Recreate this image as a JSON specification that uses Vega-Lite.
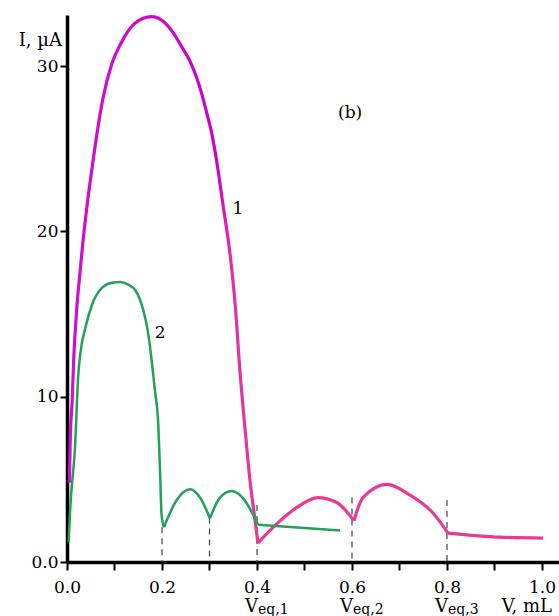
{
  "$schema": "https://vega.github.io/schema/vega-lite/v6.json",
  "width": 492,
  "height": 547,
  "autosize": "none",
  "padding": {"left": 67, "top": 15, "right": 0, "bottom": 54},
  "background": "white",
  "config": {"view": {"stroke": null}, "font": "DejaVu Serif"},
  "datasets": {
    "curve1a": [
      {"x": 0.005, "y": 4.8}, {"x": 0.007, "y": 7.6}, {"x": 0.011, "y": 9.8}, {"x": 0.014, "y": 12.2},
      {"x": 0.021, "y": 15.5}, {"x": 0.028, "y": 17.7}, {"x": 0.034, "y": 19.5}, {"x": 0.042, "y": 21.5},
      {"x": 0.053, "y": 23.9}, {"x": 0.063, "y": 25.9}, {"x": 0.076, "y": 28.1}, {"x": 0.095, "y": 30.2},
      {"x": 0.112, "y": 31.3}, {"x": 0.143, "y": 32.6}, {"x": 0.178, "y": 33.0}, {"x": 0.203, "y": 32.7},
      {"x": 0.224, "y": 32.0}, {"x": 0.241, "y": 31.2}, {"x": 0.259, "y": 30.3}, {"x": 0.273, "y": 29.3},
      {"x": 0.284, "y": 28.3}, {"x": 0.294, "y": 27.2}, {"x": 0.305, "y": 25.9}, {"x": 0.316, "y": 24.1},
      {"x": 0.328, "y": 21.7}, {"x": 0.343, "y": 18.7}, {"x": 0.354, "y": 15.6}, {"x": 0.364, "y": 11.6},
      {"x": 0.375, "y": 8.0}, {"x": 0.385, "y": 5.0}, {"x": 0.396, "y": 2.5}, {"x": 0.402, "y": 1.15}
    ],
    "curve1b": [
      {"seg": "b", "x": 0.402, "y": 1.15}, {"seg": "b", "x": 0.434, "y": 2.1}, {"seg": "b", "x": 0.484, "y": 3.3},
      {"seg": "b", "x": 0.528, "y": 3.9}, {"seg": "b", "x": 0.568, "y": 3.6}, {"seg": "b", "x": 0.604, "y": 2.5},
      {"seg": "c", "x": 0.604, "y": 2.5}, {"seg": "c", "x": 0.623, "y": 3.9},
      {"seg": "c", "x": 0.674, "y": 4.7}, {"seg": "c", "x": 0.722, "y": 4.05}, {"seg": "c", "x": 0.771, "y": 2.95}, {"seg": "c", "x": 0.802, "y": 1.75},
      {"seg": "d", "x": 0.802, "y": 1.75}, {"seg": "d", "x": 0.912, "y": 1.5}, {"seg": "d", "x": 1.002, "y": 1.45}
    ],
    "curve2": [
      {"seg": "a", "x": 0.0035, "y": 1.2}, {"seg": "a", "x": 0.006, "y": 2.8}, {"seg": "a", "x": 0.009, "y": 4.2}, {"seg": "a", "x": 0.013, "y": 5.5},
      {"seg": "a", "x": 0.017, "y": 7.0}, {"seg": "a", "x": 0.020, "y": 9.0}, {"seg": "a", "x": 0.023, "y": 11.0}, {"seg": "a", "x": 0.028, "y": 12.6},
      {"seg": "a", "x": 0.039, "y": 14.2}, {"seg": "a", "x": 0.053, "y": 15.6}, {"seg": "a", "x": 0.074, "y": 16.6}, {"seg": "a", "x": 0.095, "y": 16.9},
      {"seg": "a", "x": 0.112, "y": 16.95}, {"seg": "a", "x": 0.128, "y": 16.8}, {"seg": "a", "x": 0.145, "y": 16.4}, {"seg": "a", "x": 0.160, "y": 15.3},
      {"seg": "a", "x": 0.170, "y": 14.0}, {"seg": "a", "x": 0.177, "y": 12.5}, {"seg": "a", "x": 0.185, "y": 10.4},
      {"seg": "a", "x": 0.192, "y": 8.4}, {"seg": "a", "x": 0.196, "y": 5.4}, {"seg": "a", "x": 0.199, "y": 2.9}, {"seg": "a", "x": 0.204, "y": 2.1},
      {"seg": "b", "x": 0.204, "y": 2.1}, {"seg": "b", "x": 0.231, "y": 3.75}, {"seg": "b", "x": 0.259, "y": 4.4}, {"seg": "b", "x": 0.280, "y": 3.9}, {"seg": "b", "x": 0.301, "y": 2.65},
      {"seg": "c", "x": 0.301, "y": 2.65}, {"seg": "c", "x": 0.322, "y": 3.9}, {"seg": "c", "x": 0.347, "y": 4.3}, {"seg": "c", "x": 0.371, "y": 3.85}, {"seg": "c", "x": 0.392, "y": 2.85},
      {"seg": "c", "x": 0.402, "y": 2.25},
      {"seg": "d", "x": 0.402, "y": 2.25}, {"seg": "d", "x": 0.575, "y": 1.9}
    ],
    "dashes": [
      {"x": 0.2, "y": 2.1}, {"x": 0.3, "y": 2.7}, {"x": 0.4, "y": 3.45}, {"x": 0.6, "y": 3.9}, {"x": 0.8, "y": 3.75}
    ],
    "labels": [
      {"x": 0.36, "y": 21.35, "text": "1"},
      {"x": 0.196, "y": 13.85, "text": "2"},
      {"x": 0.596, "y": 27.2, "text": "(b)"}
    ],
    "vml": [
      {"x": 0.968, "y": -3.0, "text": "V, mL"}
    ],
    "veq": [
      {"x": 0.4, "y": -3.0, "v": "V", "sub": "eq,1"},
      {"x": 0.6, "y": -3.0, "v": "V", "sub": "eq,2"},
      {"x": 0.8, "y": -3.0, "v": "V", "sub": "eq,3"}
    ],
    "ylab": [
      {"x": -0.0105, "y": 31.5, "text": "I, µA"}
    ]
  },
  "encoding": {
    "x": {
      "field": "x", "type": "quantitative",
      "scale": {"domain": [0, 1.0358], "nice": false, "zero": false},
      "axis": {
        "title": null,
        "values": [0, 0.1, 0.2, 0.3, 0.4, 0.5, 0.6, 0.7, 0.8, 0.9, 1.0],
        "labelExpr": "round(datum.value*10)%2==0 ? format(datum.value,'.1f') : ''",
        "grid": false,
        "domainColor": "black", "domainWidth": 3.5,
        "tickColor": "black", "tickWidth": 2, "tickSize": 8,
        "labelFont": "DejaVu Serif", "labelFontSize": 17, "labelColor": "black",
        "labelPadding": 9, "labelFlush": false, "labelOverlap": false
      }
    },
    "y": {
      "field": "y", "type": "quantitative",
      "scale": {"domain": [0, 33.1], "nice": false, "zero": false},
      "axis": {
        "title": null,
        "values": [0, 10, 20, 30],
        "labelExpr": "datum.value==0 ? '0.0' : datum.label",
        "grid": false,
        "domainColor": "black", "domainWidth": 3.5,
        "tickColor": "black", "tickWidth": 2, "tickSize": 7,
        "labelFont": "DejaVu Serif", "labelFontSize": 17, "labelColor": "black",
        "labelPadding": 2, "labelFlush": false, "labelOverlap": false
      }
    }
  },
  "layer": [
    {
      "data": {"name": "dashes"},
      "mark": {"type": "rule", "strokeDash": [6, 5], "strokeWidth": 1.2, "color": "#444444"},
      "encoding": {
        "y2": {"datum": 0}
      }
    },
    {
      "data": {"name": "curve1a"},
      "mark": {
        "type": "line",
        "strokeWidth": 3.2,
        "interpolate": "monotone",
        "stroke": {
          "gradient": "linear", "x1": 0, "y1": 0, "x2": 1, "y2": 0,
          "stops": [
            {"offset": 0, "color": "#d010d0"},
            {"offset": 0.78, "color": "#cc00cc"},
            {"offset": 0.86, "color": "#e030a8"},
            {"offset": 1, "color": "#e63a96"}
          ]
        }
      },
      "encoding": {}
    },
    {
      "data": {"name": "curve1b"},
      "mark": {"type": "line", "strokeWidth": 3.2, "stroke": "#e83a94", "interpolate": "monotone"},
      "encoding": {
        "detail": {"field": "seg"}
      }
    },
    {
      "data": {"name": "curve2"},
      "mark": {"type": "line", "strokeWidth": 2.5, "stroke": "#23a05a", "interpolate": "monotone"},
      "encoding": {
        "detail": {"field": "seg"}
      }
    },
    {
      "data": {"name": "labels"},
      "mark": {"type": "text", "font": "DejaVu Serif", "fontSize": 17, "color": "black", "align": "center", "baseline": "middle"},
      "encoding": {
        "text": {"field": "text"}
      }
    },
    {
      "data": {"name": "vml"},
      "mark": {"type": "text", "font": "DejaVu Serif", "fontSize": 18, "color": "black", "align": "center", "baseline": "alphabetic"},
      "encoding": {
        "text": {"field": "text"}
      }
    },
    {
      "data": {"name": "ylab"},
      "mark": {"type": "text", "font": "DejaVu Serif", "fontSize": 18, "color": "black", "align": "right", "baseline": "middle"},
      "encoding": {
        "text": {"field": "text"}
      }
    },
    {
      "data": {"name": "veq"},
      "mark": {"type": "text", "font": "DejaVu Serif", "fontSize": 18, "color": "black", "align": "right", "baseline": "alphabetic", "dx": 1},
      "encoding": {
        "text": {"field": "v"}
      }
    },
    {
      "data": {"name": "veq"},
      "mark": {"type": "text", "font": "DejaVu Serif", "fontSize": 14, "color": "black", "align": "left", "baseline": "alphabetic", "dx": 1, "dy": 2},
      "encoding": {
        "text": {"field": "sub"}
      }
    }
  ]
}
